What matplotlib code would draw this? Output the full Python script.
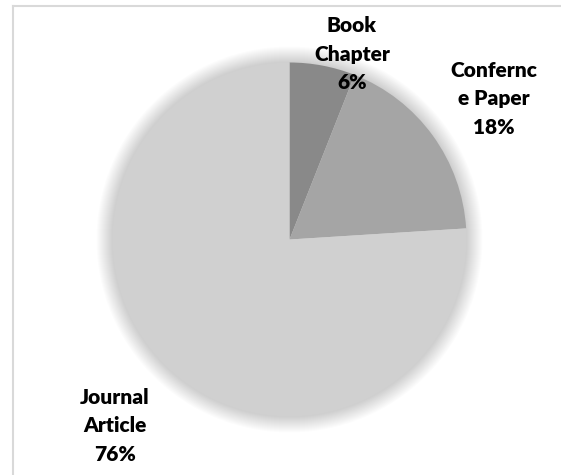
import matplotlib
matplotlib.use("Agg")
import matplotlib.pyplot as plt
from matplotlib.lines import Line2D
from matplotlib.patches import Circle

categories = ["Book\nChapter", "Confernc\ne Paper", "Journal\nArticle"]
values = [6, 18, 76]
colors = ["#898989", "#a5a5a5", "#d0d0d0"]
label_pos = [(352, 54), (494, 99), (115, 426)]  # pixel positions of label centers

W, H = 561, 475
fig = plt.figure(figsize=(W / 100, H / 100), dpi=100)
fig.patch.set_facecolor("white")

cx, cy, r = 289.5, 239.5, 177
pad = 24
ax = fig.add_axes([(cx - r - pad) / W, 1 - (cy + r + pad) / H,
                   2 * (r + pad) / W, 2 * (r + pad) / H])
lim = (r + pad) / r
# soft shadow glow
n = 16
for i in range(n, 0, -1):
    ax.add_patch(Circle((0, 0), 1 + i * 1.0 / r, color="black",
                        alpha=0.010, lw=0, zorder=0))
ax.pie(values, colors=colors, startangle=90, counterclock=False, radius=1,
       wedgeprops=dict(linewidth=0, zorder=2))
ax.set_xlim(-lim, lim)
ax.set_ylim(-lim, lim)
ax.set_aspect("equal")
ax.axis("off")

for cat, v, (x, y) in zip(categories, values, label_pos):
    fig.text(x / W, 1 - y / H, f"{cat}\n{v}%", ha="center", va="center",
             fontsize=15, fontweight="heavy", family="Lato", linespacing=1.6,
             color="black")

# frame lines (top and left)
fig.add_artist(Line2D([12.5 / W, 1], [1 - 5.5 / H] * 2, color="#d9d9d9", lw=1.5,
                      transform=fig.transFigure))
fig.add_artist(Line2D([12.5 / W] * 2, [0, 1 - 5.5 / H], color="#d9d9d9", lw=1.5,
                      transform=fig.transFigure))

fig.savefig("out.png", dpi=100)
